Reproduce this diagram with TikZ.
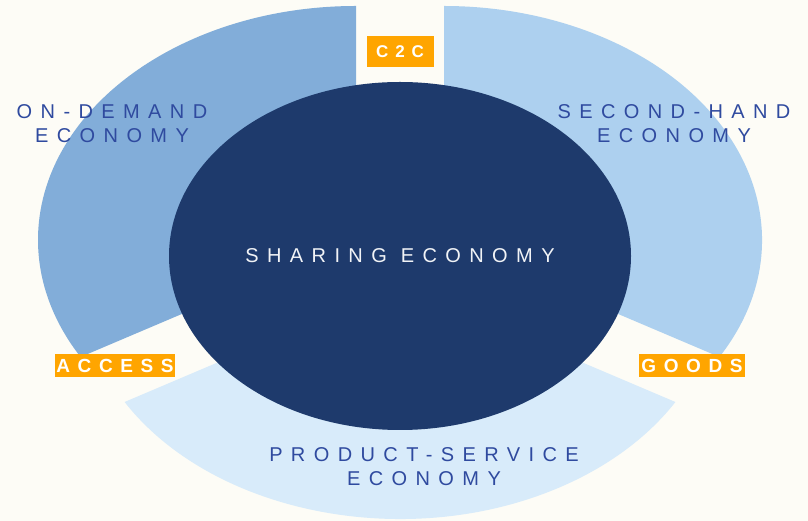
\documentclass[tikz,border=0pt]{standalone}
\usepackage{fontspec}
\setmainfont{Liberation Sans}
\newfontfamily\widefont[LetterSpace=42]{Liberation Sans}
\newfontfamily\tagfont[LetterSpace=40]{Liberation Sans}
\usetikzlibrary{shapes.geometric}

\definecolor{paper}{HTML}{FDFCF6}
\definecolor{demandblue}{HTML}{82ADD9}
\definecolor{secondblue}{HTML}{ADD0EF}
\definecolor{productblue}{HTML}{D8EBFA}
\definecolor{navy}{HTML}{1E3A6C}
\definecolor{labelblue}{HTML}{2F4A9F}
\definecolor{tagorange}{HTML}{FFA500}

\tikzset{
  sector label/.style={text=labelblue, font=\fontsize{20}{24}\widefont, align=center},
  tagbox/.style={fill=tagorange, text=white, font=\fontsize{19}{23}\tagfont\bfseries, inner sep=0pt, minimum height=23pt},
}

\begin{document}
\begin{tikzpicture}[x=1pt,y=1pt]
    \fill[paper] (0,0) rectangle (808,521);
    \useasboundingbox (0,0) rectangle (808,521);
    %sectors pulled out from the middle
    \foreach \cx/\cy/\a/\b/\col in {356/281/90/210/demandblue, 444/281/-30/90/secondblue, 400/236/210/330/productblue}
      {\fill[\col] (\cx,\cy) -- ++(\a:318 and 234) arc[start angle=\a, end angle=\b, x radius=318, y radius=234] -- cycle;}
    \node[ellipse, fill=navy, minimum width=462pt, minimum height=348pt, inner sep=0pt, text=white!94!navy, font=\fontsize{20}{24}\widefont] (share) at (400,265) {SHARING ECONOMY};
    \node[sector label] (demand) at (112,397) {ON-DEMAND\\ECONOMY};
    \node[sector label] (secondhand) at (674,397) {SECOND-HAND\\ECONOMY};
    \node[sector label] (product) at (424,54) {PRODUCT-SERVICE\\ECONOMY};
    \node[tagbox, minimum width=67pt, minimum height=31pt, font=\fontsize{17}{20}\tagfont\bfseries] (c2c) at (400,469) {C2C};
    \foreach \nm/\x/\txt/\w in {access/115/ACCESS/120, goods/692/GOODS/106}
      {\node[tagbox, minimum width=\w pt] (\nm) at (\x,155.5) {\txt};}
\end{tikzpicture}
\end{document}
